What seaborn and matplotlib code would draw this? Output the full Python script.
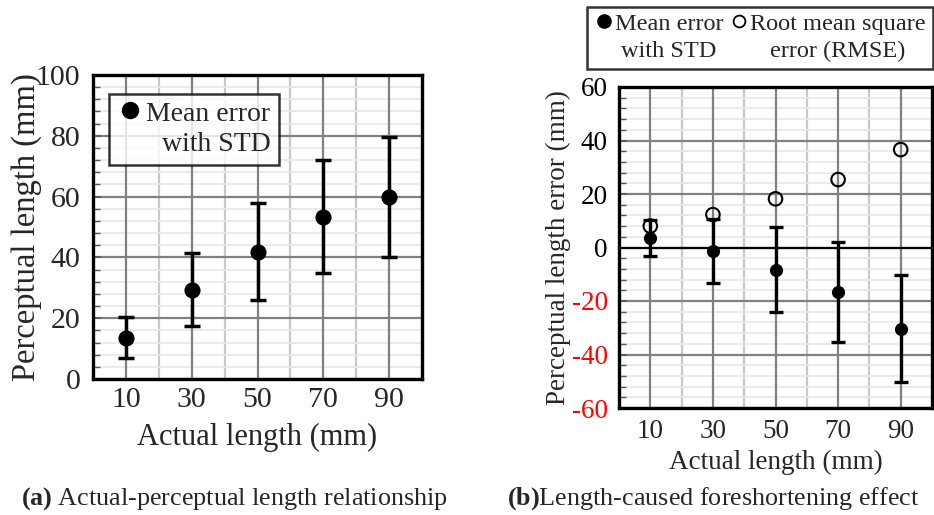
import numpy as np
import matplotlib
matplotlib.use("Agg")
import matplotlib.pyplot as plt
from matplotlib.ticker import MultipleLocator, FixedLocator
from matplotlib.lines import Line2D
from matplotlib.legend_handler import HandlerLine2D
import seaborn as sns
import pandas as pd

# Actual stimulus lengths (mm)
actual_length = [10, 30, 50, 70, 90]

# (a) perceived length: mean and standard deviation (mm)
perceived_mean = [13.6, 29.3, 41.9, 53.4, 59.9]
perceived_std = [6.8, 12.0, 15.9, 18.5, 19.8]

# (b) perceptual length error: mean, standard deviation and RMSE (mm)
error_mean = [3.6, -1.4, -8.3, -16.6, -30.3]
error_std = [6.8, 12.0, 15.8, 18.6, 20.0]
error_rmse = [8.0, 12.3, 18.2, 25.4, 36.6]

x_ticks = [10, 30, 50, 70, 90]

sns.set_theme(style="white")
plt.rcParams["font.family"] = ["Liberation Serif", "DejaVu Serif"]
plt.rcParams["axes.unicode_minus"] = False
plt.rcParams["mathtext.fontset"] = "custom"
plt.rcParams["mathtext.rm"] = "Liberation Serif"
plt.rcParams["mathtext.bf"] = "Liberation Serif:bold"

MAJ_GRID = "#808080"
MIN_GRID = "#c8c8c8"
FAINT_GRID = "#e8e8e8"


class TopLineHandler(HandlerLine2D):
    """Place the legend marker level with the first line of a two-line label."""

    def __init__(self, dy, **kw):
        super().__init__(**kw)
        self.dy = dy

    def create_artists(self, legend, orig_handle, xdescent, ydescent, width,
                       height, fontsize, trans):
        artists = super().create_artists(legend, orig_handle, xdescent, ydescent,
                                         width, height, fontsize, trans)
        for a in artists:
            a.set_ydata(np.asarray(a.get_ydata(), dtype=float) + self.dy)
        return artists


fig = plt.figure(figsize=(9.34, 5.15), dpi=100)
ax1 = fig.add_axes([93 / 934, 1 - 379 / 515, 329 / 934, 304 / 515])
ax2 = fig.add_axes([619 / 934, 1 - 408 / 515, 313 / 934, 321 / 515])

df_a = pd.DataFrame({"actual": actual_length, "mean": perceived_mean, "std": perceived_std})
df_b = pd.DataFrame({"actual": actual_length, "mean": error_mean, "std": error_std,
                     "rmse": error_rmse})


def style_axes(ax, ylo, yhi, fs, ypad, xpad):
    ax.set_xlim(0, 100)
    ax.set_ylim(ylo, yhi)
    ax.set_facecolor("white")
    # lighter vertical lines between the measured lengths
    for xv in [20, 40, 60, 80]:
        ax.axvline(xv, color=MIN_GRID, lw=1.6, zorder=0.5)
    for xv in x_ticks:
        ax.axvline(xv, color=MAJ_GRID, lw=1.6, zorder=0.6)
    ax.yaxis.set_major_locator(MultipleLocator(20))
    ax.yaxis.set_minor_locator(MultipleLocator(4))
    ax.xaxis.set_major_locator(FixedLocator(x_ticks))
    ax.grid(True, which="major", axis="y", color=MAJ_GRID, lw=1.6, zorder=0.6)
    ax.grid(True, which="minor", axis="y", color=FAINT_GRID, lw=1.2, zorder=0.4)
    ax.grid(False, axis="x")
    ax.set_axisbelow(True)
    ax.tick_params(axis="y", which="major", direction="in", length=6, width=1.2,
                   color="#555555", labelsize=fs, pad=ypad, left=True)
    ax.tick_params(axis="y", which="minor", direction="in", length=5, width=1.0,
                   color="#555555", left=True)
    ax.tick_params(axis="x", which="major", length=0, labelsize=fs, pad=xpad, bottom=True)
    for sp in ax.spines.values():
        sp.set_visible(True)
        sp.set_color("black")
        sp.set_linewidth(2.4)


# ---- (a) perceived vs actual length ----
style_axes(ax1, 0, 100, 21.5, 9, 6)
ax1.set_yticks([0, 20, 40, 60, 80, 100])
ax1.errorbar(df_a["actual"], df_a["mean"], yerr=df_a["std"], fmt="none",
             ecolor="black", elinewidth=2.5, capsize=5.8, capthick=2.5, zorder=3)
sns.scatterplot(data=df_a, x="actual", y="mean", ax=ax1, color="black", s=135,
                edgecolor="black", linewidth=0, zorder=4, legend=False)
ax1.set_xlabel("Actual length (mm)", fontsize=22, labelpad=7)
ax1.set_ylabel("Perceptual length (mm)", fontsize=23.5)
ax1.yaxis.set_label_coords(-51 / 329, 0.5)

h_mean = Line2D([], [], marker="o", ls="none", color="black", markersize=11.5)
leg1 = ax1.legend([h_mean], ["Mean error\nwith STD"], loc="upper left",
                  bbox_to_anchor=(16 / 329, 1 - 19 / 304), fontsize=20,
                  frameon=True, fancybox=False, edgecolor="black",
                  handletextpad=0.15, handlelength=0.9, borderpad=0.3,
                  borderaxespad=0, labelspacing=0.2,
                  handler_map={h_mean: TopLineHandler(dy=14)})
leg1.get_frame().set_linewidth(1.8)
for t in leg1.get_texts():
    t.set_multialignment("right")
    t.set_linespacing(1.25)

# ---- (b) perceptual length error ----
style_axes(ax2, -60, 60, 19.5, 8, 8)
ax2.set_yticks([-60, -40, -20, 0, 20, 40, 60])
ax2.axhline(0, color="black", lw=1.6, zorder=1)
ax2.errorbar(df_b["actual"], df_b["mean"], yerr=df_b["std"], fmt="none",
             ecolor="black", elinewidth=2.4, capsize=4.8, capthick=2.4, zorder=3)
sns.scatterplot(data=df_b, x="actual", y="mean", ax=ax2, color="black", s=90,
                edgecolor="black", linewidth=0, zorder=4, legend=False)
sns.scatterplot(data=df_b, x="actual", y="rmse", ax=ax2, facecolor="none",
                edgecolor="black", linewidth=1.5, s=95, marker="o", zorder=5,
                legend=False)
ax2.set_xlabel("Actual length (mm)", fontsize=19.5, labelpad=4)
ax2.set_ylabel("Perceptual length error (mm)", fontsize=19.5)
ax2.yaxis.set_label_coords(-48 / 313, 0.5)
for lbl, val in zip(ax2.get_yticklabels(), [-60, -40, -20, 0, 20, 40, 60]):
    lbl.set_color("red" if val < 0 else "black")

h_mean2 = Line2D([], [], marker="o", ls="none", color="black", markersize=9.5)
h_rmse = Line2D([], [], marker="o", ls="none", markerfacecolor="white",
                markeredgecolor="black", markeredgewidth=1.3, markersize=8.5)
leg2 = fig.legend([h_mean2, h_rmse], ["Mean error\nwith STD", "Root mean square\nerror (RMSE)"],
                  loc="upper right", bbox_to_anchor=(933 / 934, 1 - 7 / 515),
                  ncol=2, fontsize=17.5, frameon=True, fancybox=False,
                  edgecolor="black", handletextpad=0.05, handlelength=0.8,
                  columnspacing=0.25, borderpad=0.3, borderaxespad=0,
                  handler_map={h_mean2: TopLineHandler(dy=12),
                               h_rmse: TopLineHandler(dy=12)})
leg2.get_frame().set_linewidth(1.8)
for t in leg2.get_texts():
    t.set_multialignment("center")
    t.set_linespacing(1.35)

# ---- captions ----
fig.text(234 / 934, 1 - 499 / 515, r"$\mathbf{(a)}$ Actual-perceptual length relationship",
         ha="center", va="center", fontsize=18.8)
fig.text(713 / 934, 1 - 499 / 515, r"$\mathbf{(b)}$Length-caused foreshortening effect",
         ha="center", va="center", fontsize=18.8)

fig.savefig("out.png", dpi=100)
